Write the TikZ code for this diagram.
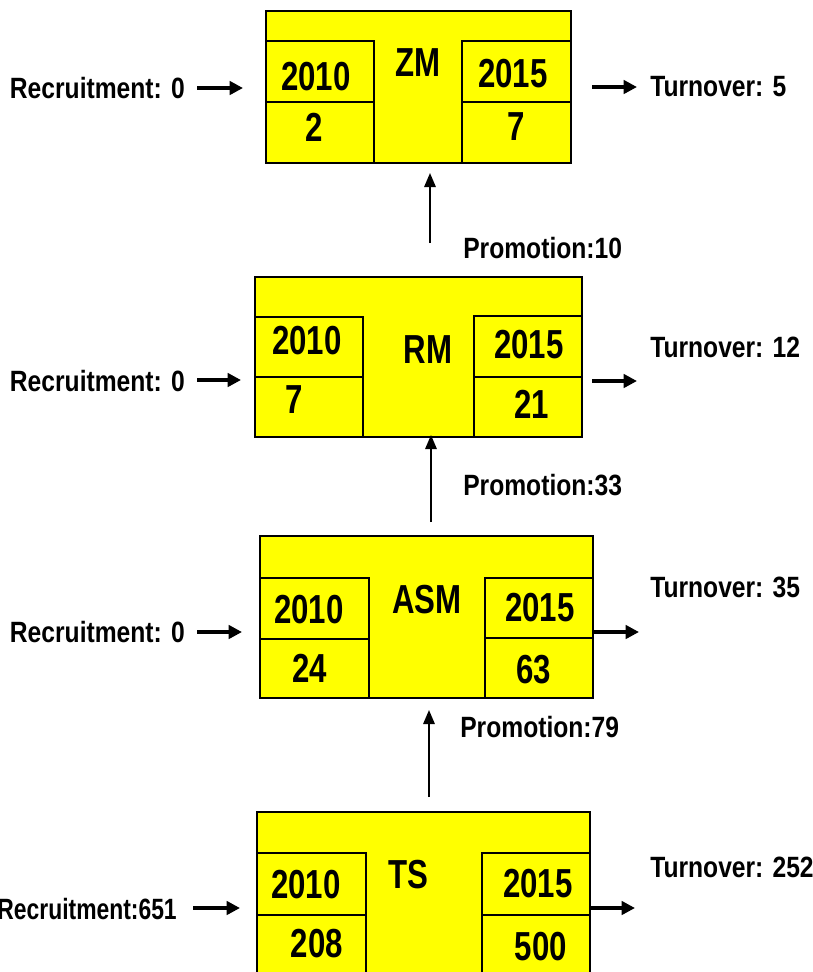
\documentclass[tikz,border=0pt]{standalone}
\usepackage{fontspec}
\newfontfamily\labelfont[FakeStretch=0.84]{Liberation Sans}
\newfontfamily\narrowlabelfont[FakeStretch=0.78]{Liberation Sans}
\newfontfamily\gradefont[FakeStretch=0.77]{Liberation Sans}
\usetikzlibrary{arrows.meta,fit}
\definecolor{boxyellow}{RGB}{255,255,0}

\tikzset{
  panel/.style={draw=black, fill=boxyellow, line width=1.4pt, inner sep=0pt},
  gradetext/.style={inner sep=0pt, font=\gradefont\bfseries\fontsize{30.4}{32}\selectfont},
  flowtext/.style={inner sep=0pt, font=\labelfont\bfseries\fontsize{22}{24}\selectfont},
  narrowflowtext/.style={inner sep=0pt, font=\narrowlabelfont\bfseries\fontsize{22}{24}\selectfont},
  flowarrow/.style={line width=3pt, -{Triangle[length=10pt,width=10pt]}},
  promoarrow/.style={line width=1.5pt, -{Triangle[length=10.5pt,width=8.5pt]}},
}

\begin{document}
\begin{tikzpicture}[x=0.75pt,y=-0.75pt]
\useasboundingbox (0,0) rectangle (813,972);
\clip (0,0) rectangle (813,972);

% ---------- ZM ----------
\node[panel, fit={(266,11) (571,163)}] (zm) {};
\node[panel, fit={(266,41) (374,102)}] (zm-a) {};
\node[panel, fit={(266,102) (374,163)}] (zm-b) {};
\node[panel, fit={(462,41) (571,102)}] (zm-c) {};
\node[panel, fit={(462,102) (571,163)}] (zm-d) {};
\node[gradetext] (zm-t)  at (418,63)  {ZM};
\node[gradetext] (zm-y1) at (316,77)  {2010};
\node[gradetext] (zm-v1) at (314,127) {2};
\node[gradetext] (zm-y2) at (513,74)  {2015};
\node[gradetext] (zm-v2) at (516,127) {7};

% ---------- RM ----------
\node[panel, fit={(255,277) (582,437)}] (rm) {};
\node[panel, fit={(255,317) (363,377)}] (rm-a) {};
\node[panel, fit={(255,377) (363,437)}] (rm-b) {};
\node[panel, fit={(474,316) (582,377)}] (rm-c) {};
\node[panel, fit={(474,377) (582,437)}] (rm-d) {};
\node[gradetext] (rm-t)  at (428,350) {RM};
\node[gradetext] (rm-y1) at (307,341) {2010};
\node[gradetext] (rm-v1) at (294,400) {7};
\node[gradetext] (rm-y2) at (529,345) {2015};
\node[gradetext] (rm-v2) at (532,404) {21};

% ---------- ASM ----------
\node[panel, fit={(260,536) (593,698)}] (asm) {};
\node[panel, fit={(260,578) (369,639)}] (asm-a) {};
\node[panel, fit={(260,639) (369,698)}] (asm-b) {};
\node[panel, fit={(485,578) (593,638)}] (asm-c) {};
\node[panel, fit={(485,638) (593,698)}] (asm-d) {};
\node[gradetext] (asm-t)  at (427,600) {ASM};
\node[gradetext] (asm-y1) at (309,610) {2010};
\node[gradetext] (asm-v1) at (310,668) {24};
\node[gradetext] (asm-y2) at (540,608) {2015};
\node[gradetext] (asm-v2) at (534,670) {63};

% ---------- TS ----------
\node[panel, fit={(257,812) (590,995)}] (ts) {};
\node[panel, fit={(257,853) (366,915)}] (ts-a) {};
\node[panel, fit={(257,915) (366,995)}] (ts-b) {};
\node[panel, fit={(482,853) (590,915)}] (ts-c) {};
\node[panel, fit={(482,915) (590,995)}] (ts-d) {};
\node[gradetext] (ts-t)  at (408,875) {TS};
\node[gradetext] (ts-y1) at (306,885) {2010};
\node[gradetext] (ts-v1) at (317,944) {208};
\node[gradetext] (ts-y2) at (538,884) {2015};
\node[gradetext] (ts-v2) at (541,947) {500};

% ---------- recruitment (inflow) ----------
\node[flowtext, anchor=east] (zm-rec)  at (185,88)  {Recruitment: 0};
\node[flowtext, anchor=east] (rm-rec)  at (185,381) {Recruitment: 0};
\node[flowtext, anchor=east] (asm-rec) at (185,632) {Recruitment: 0};
\node[narrowflowtext, anchor=east] (ts-rec) at (177,909) {Recruitment:651};

\coordinate (zm-in0)  at (197,88);  \coordinate (zm-in1)  at (243,88);
\coordinate (rm-in0)  at (197,380); \coordinate (rm-in1)  at (241,380);
\coordinate (asm-in0) at (197,632); \coordinate (asm-in1) at (242,632);
\coordinate (ts-in0)  at (193,908); \coordinate (ts-in1)  at (240,908);

\draw[flowarrow] (zm-in0)  -- (zm-in1);
\draw[flowarrow] (rm-in0)  -- (rm-in1);
\draw[flowarrow] (asm-in0) -- (asm-in1);
\draw[flowarrow] (ts-in0)  -- (ts-in1);

% ---------- turnover (outflow) ----------
\node[flowtext, anchor=west] (zm-out)  at (650,87)  {Turnover: 5};
\node[flowtext, anchor=west] (rm-out)  at (650,347) {Turnover: 12};
\node[flowtext, anchor=west] (asm-out) at (650,587) {Turnover: 35};
\node[flowtext, anchor=west] (ts-out)  at (650,867) {Turnover: 252};

\coordinate (zm-ex0)  at (592,87);  \coordinate (zm-ex1)  at (637,87);
\coordinate (rm-ex0)  at (592,381); \coordinate (rm-ex1)  at (637,381);
\coordinate (asm-ex0) at (593,632); \coordinate (asm-ex1) at (639,632);
\coordinate (ts-ex0)  at (590,908); \coordinate (ts-ex1)  at (635,908);

\draw[flowarrow] (zm-ex0)  -- (zm-ex1);
\draw[flowarrow] (rm-ex0)  -- (rm-ex1);
\draw[flowarrow] (asm-ex0) -- (asm-ex1);
\draw[flowarrow] (ts-ex0)  -- (ts-ex1);

% ---------- promotions ----------
\node[flowtext, anchor=west] (p-rm)  at (463,248) {Promotion:10};
\node[flowtext, anchor=west] (p-asm) at (463,485) {Promotion:33};
\node[flowtext, anchor=west] (p-ts)  at (460,727) {Promotion:79};

\coordinate (p-rm0)  at (430,243); \coordinate (p-rm1)  at (430,173);
\coordinate (p-asm0) at (431,522); \coordinate (p-asm1) at (431,435);
\coordinate (p-ts0)  at (429,797); \coordinate (p-ts1)  at (429,710);

\draw[promoarrow] (p-rm0)  -- (p-rm1);
\draw[promoarrow] (p-asm0) -- (p-asm1);
\draw[promoarrow] (p-ts0)  -- (p-ts1);
\end{tikzpicture}
\end{document}
